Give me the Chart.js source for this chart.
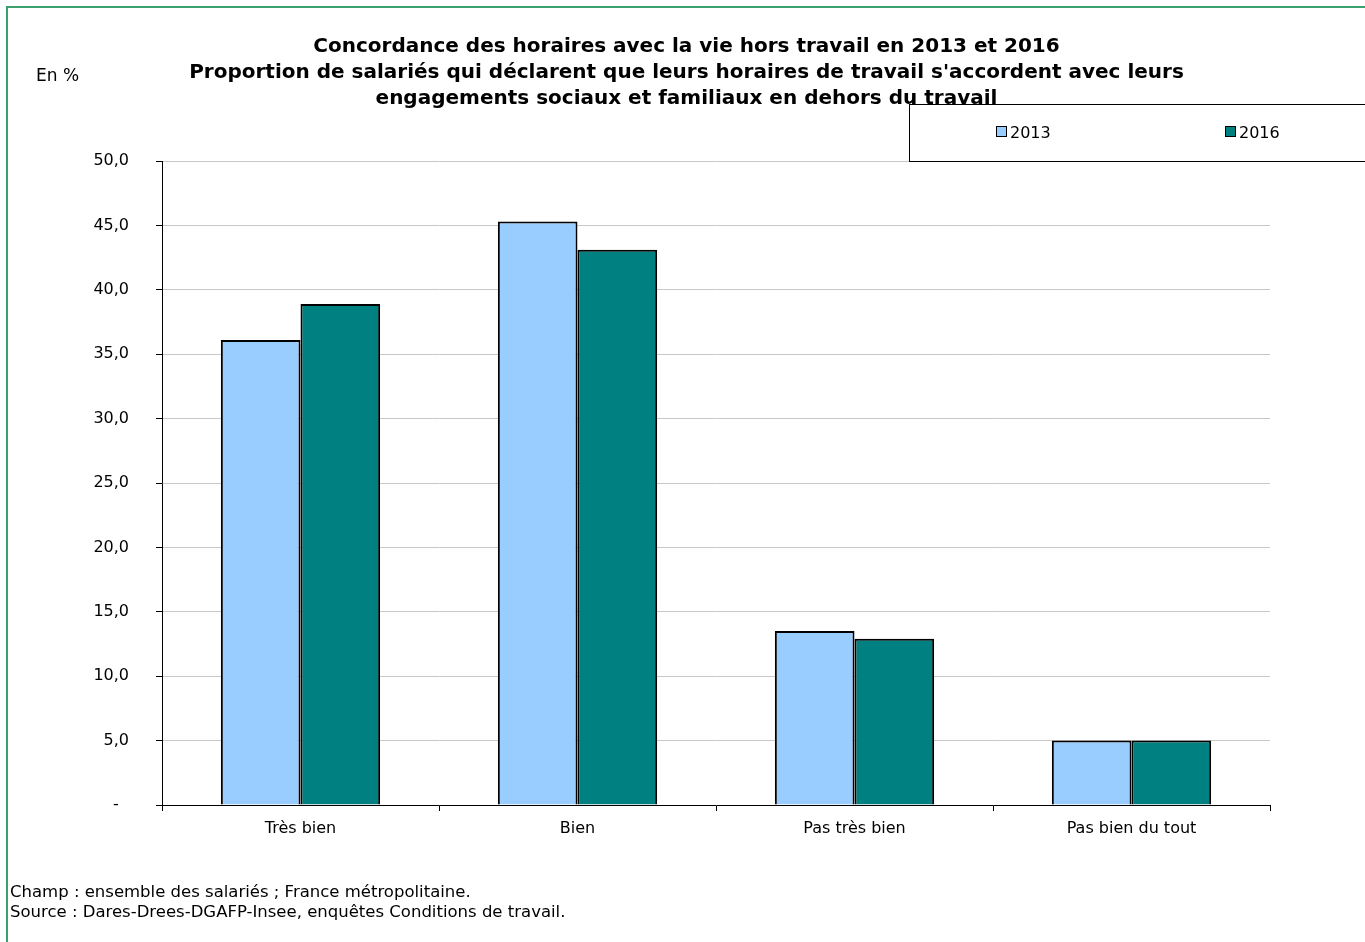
<!DOCTYPE html>
<html lang="fr">
<head>
<meta charset="utf-8">
<title>Concordance des horaires</title>
<script src="https://cdn.jsdelivr.net/npm/chart.js@4"></script>
<style>
  body { margin: 0; background: #fff; font-family: "DejaVu Sans", Verdana, sans-serif; }
  #page { position: relative; width: 1365px; height: 942px; overflow: hidden; }
  #frame { position: absolute; left: 6px; top: 6px; width: 1400px; height: 1000px;
            border-left: 2px solid #3c9f6e; border-top: 2px solid #3c9f6e; }
  #chart { position: absolute; left: 0; top: 0; }
  #title { position: absolute; left: 0; width: 1373px; top: 32px; text-align: center;
           font-weight: bold; font-size: 20px; line-height: 26px; color: #000; }
  #unit { position: absolute; left: 36px; top: 65px; font-size: 17px; color: #000; }
  #legend { position: absolute; left: 909px; top: 104px; width: 500px; height: 56px;
            border: 1px solid #000; }
  .item { position: absolute; top: 19px; font-size: 16px; line-height: 18px; }
  .sw { display: inline-block; width: 9px; height: 9px; border: 1px solid #000;
        margin-right: 3px; vertical-align: 1px; }
  #notes { position: absolute; left: 10px; top: 882px; font-size: 16.5px; line-height: 20px; color: #000; }
</style>
</head>
<body>
<div id="page">
  <div id="frame"></div>
  <canvas id="chart" width="1365" height="942"></canvas>
  <div id="title">Concordance des horaires avec la vie hors travail en 2013 et 2016<br>Proportion de salariés qui déclarent que leurs horaires de travail s'accordent avec leurs<br>engagements sociaux et familiaux en dehors du travail</div>
  <div id="unit">En %</div>
  <div id="legend"></div>
  <div id="notes">Champ : ensemble des salariés ; France métropolitaine.<br>Source : Dares-Drees-DGAFP-Insee, enquêtes Conditions de travail.</div>
</div>
<script>
const categories = ['Très bien', 'Bien', 'Pas très bien', 'Pas bien du tout']
const years = ['2013', '2016']
const values2013 = [36.1, 45.3, 13.5, 5.0]
const values2016 = [38.9, 43.1, 12.9, 5.0]
const colors = ['#99ccff', '#008080']

const series = [values2013, values2016]

// HTML legend, positioned like the original box
const legendX = [86, 315]
document.getElementById('legend').innerHTML = years.map((y, i) =>
  `<span class="item" style="left:${legendX[i]}px"><span class="sw" style="background:${colors[i]}"></span>${y}</span>`
).join('')

new Chart(document.getElementById('chart'), {
  type: 'bar',
  data: {
    labels: categories,
    datasets: years.map((y, i) => ({
      label: y,
      data: series[i],
      backgroundColor: colors[i],
      borderColor: '#000',
      borderWidth: 2,
      categoryPercentage: 0.575,
      barPercentage: 1
    }))
  },
  options: {
    responsive: false,
    animation: false,
    devicePixelRatio: 1,
    layout: { padding: { top: 161, right: 95, left: 0, bottom: 0 } },
    plugins: { legend: { display: false }, title: { display: false }, tooltip: { enabled: false } },
    scales: {
      x: {
        afterFit: s => { s.height = 137 },
        grid: { display: true, drawOnChartArea: false, offset: true, tickLength: 6, color: '#000' },
        border: { color: '#000', width: 1 },
        ticks: { color: '#000', font: { family: 'DejaVu Sans', size: 16 }, padding: 8 }
      },
      y: {
        min: 0, max: 50,
        afterFit: s => { s.width = 162 },
        ticks: {
          stepSize: 5,
          color: '#000',
          padding: 27,
          font: { family: 'DejaVu Sans', size: 16 },
          callback: v => v === 0 ? '-  ' : v.toFixed(1).replace('.', ',')
        },
        grid: { color: '#c8c8c8', tickColor: '#000', tickLength: 6 },
        border: { color: '#000', width: 1 }
      }
    }
  }
})
</script>
</body>
</html>
